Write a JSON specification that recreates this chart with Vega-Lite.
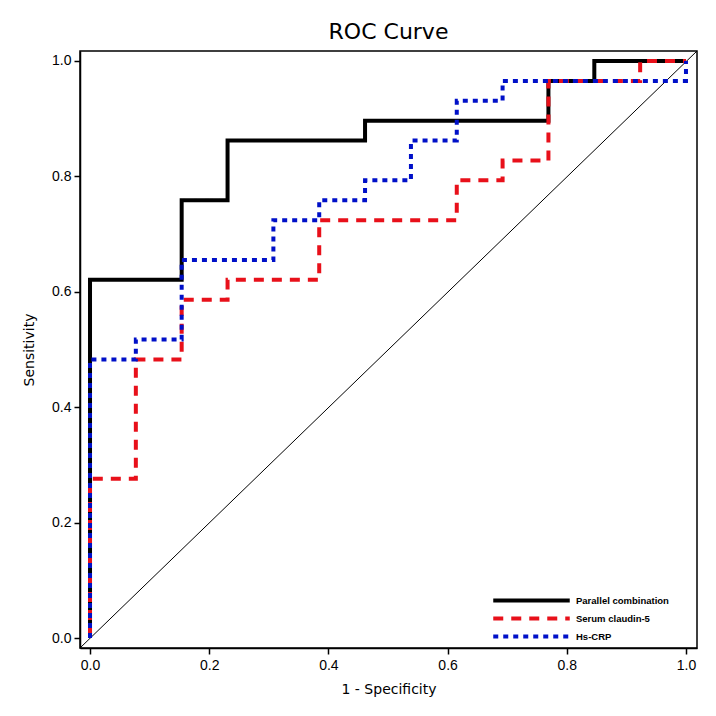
{
  "$schema": "https://vega.github.io/schema/vega-lite/v6.json",
  "width": 617,
  "height": 597,
  "autosize": {"type": "none"},
  "padding": {"left": 80, "top": 51, "right": 19, "bottom": 68},
  "background": "white",
  "title": {"text": "ROC Curve", "fontSize": 22, "font": "DejaVu Sans", "fontWeight": "normal", "color": "#000", "offset": 7, "anchor": "middle"},
  "config": {
    "view": {"stroke": "#000", "strokeWidth": 1.5},
    "axis": {"grid": false, "domainColor": "#000", "domainWidth": 1.5, "tickColor": "#000", "tickWidth": 1.5, "tickSize": 6, "labelFont": "Liberation Sans", "labelFontSize": 14, "labelColor": "#000", "titleFont": "DejaVu Sans", "titleFontSize": 14, "titleFontWeight": "normal", "titleColor": "#000"}
  },
  "datasets": {
    "roc": [
      {"series": "Parallel combination", "i": 1, "fpr": 0, "tpr": 0},
      {"series": "Parallel combination", "i": 2, "fpr": 0, "tpr": 0.6207},
      {"series": "Parallel combination", "i": 3, "fpr": 0.1538, "tpr": 0.6207},
      {"series": "Parallel combination", "i": 4, "fpr": 0.1538, "tpr": 0.7586},
      {"series": "Parallel combination", "i": 5, "fpr": 0.2308, "tpr": 0.7586},
      {"series": "Parallel combination", "i": 6, "fpr": 0.2308, "tpr": 0.8621},
      {"series": "Parallel combination", "i": 7, "fpr": 0.4615, "tpr": 0.8621},
      {"series": "Parallel combination", "i": 8, "fpr": 0.4615, "tpr": 0.8966},
      {"series": "Parallel combination", "i": 9, "fpr": 0.7692, "tpr": 0.8966},
      {"series": "Parallel combination", "i": 10, "fpr": 0.7692, "tpr": 0.9655},
      {"series": "Parallel combination", "i": 11, "fpr": 0.8462, "tpr": 0.9655},
      {"series": "Parallel combination", "i": 12, "fpr": 0.8462, "tpr": 1},
      {"series": "Parallel combination", "i": 13, "fpr": 1, "tpr": 1},
      {"series": "Serum claudin-5", "i": 1, "fpr": 0, "tpr": 0},
      {"series": "Serum claudin-5", "i": 2, "fpr": 0, "tpr": 0.2759},
      {"series": "Serum claudin-5", "i": 3, "fpr": 0.0769, "tpr": 0.2759},
      {"series": "Serum claudin-5", "i": 4, "fpr": 0.0769, "tpr": 0.4828},
      {"series": "Serum claudin-5", "i": 5, "fpr": 0.1538, "tpr": 0.4828},
      {"series": "Serum claudin-5", "i": 6, "fpr": 0.1538, "tpr": 0.5862},
      {"series": "Serum claudin-5", "i": 7, "fpr": 0.2308, "tpr": 0.5862},
      {"series": "Serum claudin-5", "i": 8, "fpr": 0.2308, "tpr": 0.6207},
      {"series": "Serum claudin-5", "i": 9, "fpr": 0.3846, "tpr": 0.6207},
      {"series": "Serum claudin-5", "i": 10, "fpr": 0.3846, "tpr": 0.7241},
      {"series": "Serum claudin-5", "i": 11, "fpr": 0.6154, "tpr": 0.7241},
      {"series": "Serum claudin-5", "i": 12, "fpr": 0.6154, "tpr": 0.7931},
      {"series": "Serum claudin-5", "i": 13, "fpr": 0.6923, "tpr": 0.7931},
      {"series": "Serum claudin-5", "i": 14, "fpr": 0.6923, "tpr": 0.8276},
      {"series": "Serum claudin-5", "i": 15, "fpr": 0.7692, "tpr": 0.8276},
      {"series": "Serum claudin-5", "i": 16, "fpr": 0.7692, "tpr": 0.9655},
      {"series": "Serum claudin-5", "i": 17, "fpr": 0.9231, "tpr": 0.9655},
      {"series": "Serum claudin-5", "i": 18, "fpr": 0.9231, "tpr": 1},
      {"series": "Serum claudin-5", "i": 19, "fpr": 1, "tpr": 1},
      {"series": "Hs-CRP", "i": 1, "fpr": 0, "tpr": 0},
      {"series": "Hs-CRP", "i": 2, "fpr": 0, "tpr": 0.4828},
      {"series": "Hs-CRP", "i": 3, "fpr": 0.0769, "tpr": 0.4828},
      {"series": "Hs-CRP", "i": 4, "fpr": 0.0769, "tpr": 0.5172},
      {"series": "Hs-CRP", "i": 5, "fpr": 0.1538, "tpr": 0.5172},
      {"series": "Hs-CRP", "i": 6, "fpr": 0.1538, "tpr": 0.6552},
      {"series": "Hs-CRP", "i": 7, "fpr": 0.3077, "tpr": 0.6552},
      {"series": "Hs-CRP", "i": 8, "fpr": 0.3077, "tpr": 0.7241},
      {"series": "Hs-CRP", "i": 9, "fpr": 0.3846, "tpr": 0.7241},
      {"series": "Hs-CRP", "i": 10, "fpr": 0.3846, "tpr": 0.7586},
      {"series": "Hs-CRP", "i": 11, "fpr": 0.4615, "tpr": 0.7586},
      {"series": "Hs-CRP", "i": 12, "fpr": 0.4615, "tpr": 0.7931},
      {"series": "Hs-CRP", "i": 13, "fpr": 0.5385, "tpr": 0.7931},
      {"series": "Hs-CRP", "i": 14, "fpr": 0.5385, "tpr": 0.8621},
      {"series": "Hs-CRP", "i": 15, "fpr": 0.6154, "tpr": 0.8621},
      {"series": "Hs-CRP", "i": 16, "fpr": 0.6154, "tpr": 0.931},
      {"series": "Hs-CRP", "i": 17, "fpr": 0.6923, "tpr": 0.931},
      {"series": "Hs-CRP", "i": 18, "fpr": 0.6923, "tpr": 0.9655},
      {"series": "Hs-CRP", "i": 19, "fpr": 1, "tpr": 0.9655},
      {"series": "Hs-CRP", "i": 20, "fpr": 1, "tpr": 1}
    ],
    "diag": [
      {"fpr": -0.0168, "tpr": -0.0173},
      {"fpr": 1.0185, "tpr": 1.0173}
    ]
  },
  "layer": [
    {
      "data": {"name": "diag"},
      "mark": {"type": "line", "color": "#000", "strokeWidth": 1, "clip": true},
      "encoding": {
        "x": {"field": "fpr", "type": "quantitative"},
        "y": {"field": "tpr", "type": "quantitative"}
      }
    },
    {
      "data": {"name": "roc"},
      "mark": {"type": "line", "strokeWidth": 4, "strokeCap": "butt", "strokeJoin": "miter", "clip": true},
      "encoding": {
        "x": {"field": "fpr", "type": "quantitative", "title": "1 - Specificity",
              "scale": {"domain": [-0.0168, 1.0185], "nice": false, "zero": false},
              "axis": {"values": [0, 0.2, 0.4, 0.6, 0.8, 1.0], "format": ".1f", "labelPadding": 4, "titlePadding": 10}},
        "y": {"field": "tpr", "type": "quantitative", "title": "Sensitivity",
              "scale": {"domain": [-0.0173, 1.0173], "nice": false, "zero": false},
              "axis": {"values": [0, 0.2, 0.4, 0.6, 0.8, 1.0], "format": ".1f", "labelPadding": 3, "titlePadding": 15}},
        "color": {"field": "series", "type": "nominal",
                  "scale": {"domain": ["Parallel combination", "Serum claudin-5", "Hs-CRP"], "range": ["#000000", "#e8101a", "#0010c8"]},
                  "legend": {"title": null, "orient": "none", "legendX": 442, "legendY": 540, "symbolType": "M-5.1,0H5.1", "symbolSize": 225, "symbolStrokeWidth": 4, "labelFont": "Liberation Sans", "labelFontWeight": "bold", "labelFontSize": 9.5, "labelColor": "#000", "rowPadding": 0, "labelOffset": 35}},
        "strokeDash": {"field": "series", "type": "nominal",
                  "scale": {"domain": ["Parallel combination", "Serum claudin-5", "Hs-CRP"], "range": [[1, 0], [10, 8], [5, 5]]},
                  "legend": null},
        "order": {"field": "i", "type": "quantitative"}
      }
    }
  ]
}
